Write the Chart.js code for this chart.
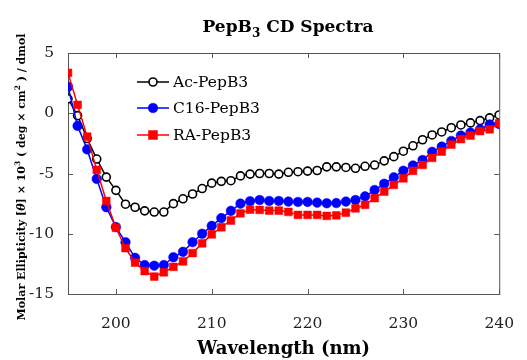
<!DOCTYPE html>
<html>
<head>
<meta charset="utf-8">
<script src="https://cdn.jsdelivr.net/npm/chart.js@4.4.0/dist/chart.umd.min.js"></script>
<style>
  html, body { margin: 0; padding: 0; background: #fff; }
  canvas { display: block; }
</style>
</head>
<body>
<canvas id="cdChart" width="527" height="360"></canvas>
<script>
// PepB3 CD spectra
const wavelength = [195, 196, 197, 198, 199, 200, 201, 202, 203, 204,
  205, 206, 207, 208, 209, 210, 211, 212, 213, 214,
  215, 216, 217, 218, 219, 220, 221, 222, 223, 224,
  225, 226, 227, 228, 229, 230, 231, 232, 233, 234,
  235, 236, 237, 238, 239, 240];
const acPepB3 = [1.2, -0.2, -2.1, -3.8, -5.3, -6.4, -7.55, -7.8, -8.1, -8.2,
  -8.2, -7.5, -7.1, -6.7, -6.25, -5.8, -5.65, -5.6, -5.2, -5.05,
  -5.0, -5.0, -5.05, -4.9, -4.85, -4.8, -4.75, -4.45, -4.45, -4.5,
  -4.57, -4.4, -4.3, -3.95, -3.6, -3.15, -2.7, -2.2, -1.8, -1.55,
  -1.2, -0.97, -0.8, -0.61, -0.38, -0.14];
const c16PepB3 = [2.2, -1.05, -3.0, -5.45, -7.8, -9.45, -10.7, -12.0, -12.6, -12.65,
  -12.6, -11.95, -11.5, -10.7, -10.0, -9.35, -8.7, -8.1, -7.5, -7.3,
  -7.2, -7.28, -7.28, -7.33, -7.36, -7.36, -7.42, -7.47, -7.45, -7.33,
  -7.2, -6.9, -6.37, -5.85, -5.32, -4.77, -4.33, -3.88, -3.2, -2.77,
  -2.3, -1.85, -1.6, -1.33, -0.93, -0.9];
const raPepB3 = [3.35, 0.69, -1.94, -4.7, -7.28, -9.5, -11.2, -12.4, -13.1, -13.55,
  -13.2, -12.75, -12.3, -11.6, -10.8, -10.05, -9.46, -8.9, -8.3, -8.0,
  -8.02, -8.08, -8.08, -8.19, -8.44, -8.44, -8.44, -8.52, -8.47, -8.25,
  -7.9, -7.6, -7.05, -6.5, -5.95, -5.4, -4.78, -4.29, -3.7, -3.18,
  -2.6, -2.15, -1.85, -1.48, -1.33, -0.83];
const xTicks = [200, 210, 220, 230, 240];
const yTicks = [-15, -10, -5, 0, 5];

const SERIF = "'DejaVu Serif', 'Liberation Serif', serif";

function toPoints(ys) {
  return wavelength.map((x, i) => ({ x: x, y: ys[i] }));
}

// draw a row of text pieces (sub/superscripts) centred on x
function drawRuns(ctx, runs, x, y) {
  let total = 0;
  runs.forEach(r => { ctx.font = r.font; total += ctx.measureText(r.text).width; });
  let cx = x - total / 2;
  runs.forEach(r => {
    ctx.font = r.font;
    ctx.fillText(r.text, cx, y + (r.dy || 0));
    cx += ctx.measureText(r.text).width;
  });
}

// box, inward ticks, title, y label and legend
const decorPlugin = {
  id: 'decor',
  beforeDatasetsDraw(chart) {
    const ctx = chart.ctx;
    const a = chart.chartArea;
    const xs = chart.scales.x, ys = chart.scales.y;
    ctx.save();
    ctx.strokeStyle = '#555';
    ctx.lineWidth = 1;
    ctx.strokeRect(a.left + 0.5, a.top + 0.5, a.right - a.left, a.bottom - a.top);
    ctx.beginPath();
    xTicks.forEach(v => {
      const px = Math.round(xs.getPixelForValue(v)) + 0.5;
      ctx.moveTo(px, a.bottom); ctx.lineTo(px, a.bottom - 5);
      ctx.moveTo(px, a.top); ctx.lineTo(px, a.top + 5);
    });
    yTicks.forEach(v => {
      const py = Math.round(ys.getPixelForValue(v)) + 0.5;
      ctx.moveTo(a.left, py); ctx.lineTo(a.left + 5, py);
      ctx.moveTo(a.right, py); ctx.lineTo(a.right - 5, py);
    });
    ctx.stroke();
    ctx.restore();
  },
  afterDraw(chart) {
    const ctx = chart.ctx;
    ctx.save();
    ctx.fillStyle = '#000';
    ctx.textBaseline = 'alphabetic';

    // title
    drawRuns(ctx, [
      { text: 'PepB', font: 'bold 17px ' + SERIF },
      { text: '3', font: 'bold 12px ' + SERIF, dy: 5 },
      { text: ' CD Spectra', font: 'bold 17px ' + SERIF }
    ], 288, 32);

    // y label
    ctx.save();
    ctx.translate(25, 177);
    ctx.rotate(-Math.PI / 2);
    const f = 'bold 11px ' + SERIF, fs = 'bold 7.5px ' + SERIF;
    drawRuns(ctx, [
      { text: 'Molar Ellipticity [', font: f },
      { text: 'θ', font: 'italic bold 11px ' + SERIF },
      { text: '] × 10', font: f },
      { text: '3', font: fs, dy: -5 },
      { text: ' ( deg × cm', font: f },
      { text: '2', font: fs, dy: -5 },
      { text: ' ) / dmol', font: f }
    ], 0, 0);
    ctx.restore();

    // legend
    const rows = [82, 108, 135];
    chart.data.datasets.forEach((ds, i) => {
      const y = rows[i];
      ctx.strokeStyle = ds.borderColor;
      ctx.lineWidth = 1.5;
      ctx.beginPath();
      ctx.moveTo(137, y); ctx.lineTo(169, y);
      ctx.stroke();
      ctx.fillStyle = ds.pointBackgroundColor;
      ctx.strokeStyle = ds.pointBorderColor;
      ctx.lineWidth = ds.pointBorderWidth;
      ctx.beginPath();
      if (ds.pointStyle === 'rect') {
        ctx.rect(153 - 4.5, y - 4.5, 9, 9);
      } else {
        ctx.arc(153, y, ds.pointRadius, 0, Math.PI * 2);
      }
      ctx.fill();
      ctx.stroke();
      ctx.fillStyle = '#000';
      ctx.font = '15.5px ' + SERIF;
      ctx.textBaseline = 'middle';
      ctx.fillText(ds.label, 173, y + 1);
    });
    ctx.restore();
  }
};

const ctx = document.getElementById('cdChart').getContext('2d');
const cdChart = new Chart(ctx, {
  type: 'line',
  data: {
    datasets: [
      {
        label: 'Ac-PepB3',
        data: toPoints(acPepB3),
        borderColor: '#000',
        borderWidth: 1.5,
        pointStyle: 'circle',
        pointRadius: 4,
        pointBackgroundColor: '#fff',
        pointBorderColor: '#000',
        pointBorderWidth: 1.6,
        order: 3
      },
      {
        label: 'C16-PepB3',
        data: toPoints(c16PepB3),
        borderColor: '#0000ff',
        borderWidth: 1.5,
        pointStyle: 'circle',
        pointRadius: 4.8,
        pointBackgroundColor: '#0000ff',
        pointBorderColor: '#0000ff',
        pointBorderWidth: 0.5,
        order: 2
      },
      {
        label: 'RA-PepB3',
        data: toPoints(raPepB3),
        borderColor: '#ff0000',
        borderWidth: 1.5,
        pointStyle: 'rect',
        pointRadius: 5.5,
        pointBackgroundColor: '#ff0000',
        pointBorderColor: '#ff0000',
        pointBorderWidth: 0.5,
        order: 1
      }
    ]
  },
  options: {
    responsive: false,
    animation: false,
    layout: { padding: { left: 0, top: 53, right: 16, bottom: 0 } },
    plugins: {
      legend: { display: false },
      tooltip: { enabled: false },
      title: { display: false }
    },
    scales: {
      x: {
        type: 'linear',
        min: 195,
        max: 240,
        grid: { display: false },
        border: { display: false },
        afterBuildTicks: s => { s.ticks = xTicks.map(v => ({ value: v })); },
        afterFit: s => { s.height = 66; },
        ticks: {
          padding: 13,
          color: '#222',
          maxRotation: 0,
          font: { family: SERIF, size: 15.5 }
        },
        title: {
          display: true,
          text: 'Wavelength (nm)',
          color: '#000',
          padding: { top: 0, bottom: 0 },
          font: { family: SERIF, size: 18, weight: 'bold' }
        }
      },
      y: {
        min: -15,
        max: 5,
        grid: { display: false },
        border: { display: false },
        afterBuildTicks: s => { s.ticks = yTicks.map(v => ({ value: v })); },
        afterFit: s => { s.width = 68; },
        ticks: {
          padding: 6,
          color: '#222',
          font: { family: SERIF, size: 15.5 }
        }
      }
    }
  },
  plugins: [decorPlugin]
});
</script>
</body>
</html>
